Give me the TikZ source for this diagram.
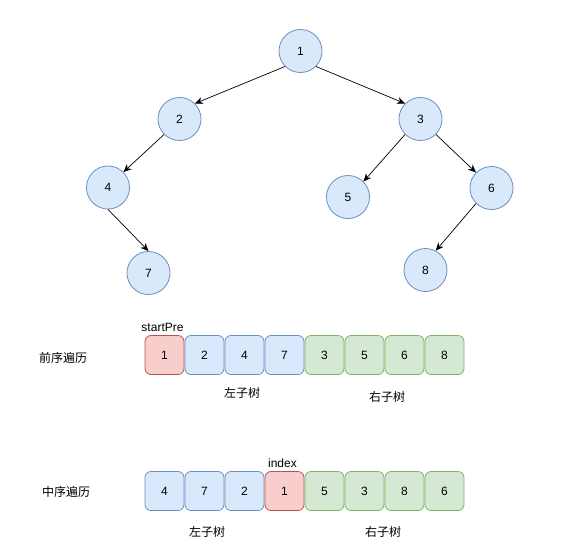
\documentclass[tikz,border=0pt]{standalone}
\usepackage{fontspec}
\setmainfont{Liberation Sans}
\newfontfamily\cjk{Noto Sans CJK SC}
\usetikzlibrary{arrows.meta}
\definecolor{bluefill}{HTML}{DAE8FC}
\definecolor{bluedraw}{HTML}{6C8EBF}
\definecolor{redfill}{HTML}{F8CECC}
\definecolor{reddraw}{HTML}{B85450}
\definecolor{greenfill}{HTML}{D5E8D4}
\definecolor{greendraw}{HTML}{82B366}
\tikzset{
  treenode/.style={circle, draw=bluedraw, fill=bluefill, line width=0.8pt, minimum size=43pt, inner sep=0pt, font=\fontsize{12}{14}\selectfont},
  cell/.style={rectangle, rounded corners=6pt, line width=0.8pt, minimum size=39pt, inner sep=0pt, font=\fontsize{12}{14}\selectfont},
  bluecell/.style={cell, draw=bluedraw, fill=bluefill},
  redcell/.style={cell, draw=reddraw, fill=redfill},
  greencell/.style={cell, draw=greendraw, fill=greenfill},
  label/.style={font=\fontsize{12}{14}\selectfont},
  cnlabel/.style={font=\cjk\fontsize{12}{14}\selectfont},
  edge/.style={-{Stealth[length=8pt,width=7pt]}, line width=0.7pt}
}
\begin{document}
\begin{tikzpicture}[x=1pt, y=-1pt]
    \useasboundingbox (0,0) rectangle (567,550);

    % Tree nodes
    \node[treenode] (n1) at (300.5,51) {1};
    \node[treenode] (n2) at (179.5,119) {2};
    \node[treenode] (n3) at (420.5,119) {3};
    \node[treenode] (n4) at (108,187.5) {4};
    \node[treenode] (n5) at (348,197) {5};
    \node[treenode] (n6) at (491.5,188) {6};
    \node[treenode] (n7) at (148.5,273) {7};
    \node[treenode] (n8) at (425.5,270) {8};

    % Tree edges
    \draw[edge] (n1.south west) -- (n2.north east);
    \draw[edge] (n1.south east) -- (n3.north west);
    \draw[edge] (n2.south west) -- (n4.north east);
    \draw[edge] (n4.south) -- (n7.north);
    \draw[edge] (n3.south west) -- (n5.north east);
    \draw[edge] (n3.south east) -- (n6.north west);
    \draw[edge] (n6.south west) -- (n8.62);

    % Pre-order array
    \node[cnlabel] (prelabel) at (63,358) {前序遍历};
    \node[redcell] (p1) at (164.5,355) {1};
    \node[bluecell] (p2) at (204.5,355) {2};
    \node[bluecell] (p3) at (244.5,355) {4};
    \node[bluecell] (p4) at (284.5,355) {7};
    \node[greencell] (p5) at (324.5,355) {3};
    \node[greencell] (p6) at (364.5,355) {5};
    \node[greencell] (p7) at (404.5,355) {6};
    \node[greencell] (p8) at (444.5,355) {8};
    \node[label] (startpre) at (162.5,327) {startPre};
    \node[cnlabel] (preleft) at (242,393) {左子树};
    \node[cnlabel] (preright) at (387,397) {右子树};

    % In-order array
    \node[cnlabel] (inlabel) at (66,492) {中序遍历};
    \node[bluecell] (m1) at (164.5,491) {4};
    \node[bluecell] (m2) at (204.5,491) {7};
    \node[bluecell] (m3) at (244.5,491) {2};
    \node[redcell] (m4) at (284.5,491) {1};
    \node[greencell] (m5) at (324.5,491) {5};
    \node[greencell] (m6) at (364.5,491) {3};
    \node[greencell] (m7) at (404.5,491) {8};
    \node[greencell] (m8) at (444.5,491) {6};
    \node[label] (index) at (282.5,463) {index};
    \node[cnlabel] (inleft) at (207,532) {左子树};
    \node[cnlabel] (inright) at (383,532) {右子树};
\end{tikzpicture}
\end{document}
